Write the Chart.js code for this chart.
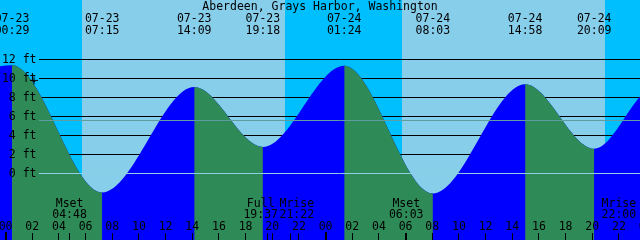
<!DOCTYPE html>
<html>
<head>
<meta charset="utf-8">
<script src="https://cdn.jsdelivr.net/npm/chart.js@4"></script>
<style>
  html, body { margin: 0; padding: 0; background: #87CEEB; overflow: hidden; }
  canvas { display: block; }
</style>
</head>
<body>
<canvas id="tide-chart" width="640" height="240"></canvas>
<script>
// station and window (times are "MM-DD HH:MM", local)
const station = "Aberdeen, Grays Harbor, Washington";
const windowStart = "07-22 23:35";
const windowEnd = "07-24 23:35";

// tide extremes (ft)
const tideStamps = ["07-23 00:29", "07-23 07:15", "07-23 14:09", "07-23 19:18",
                    "07-24 01:24", "07-24 08:03", "07-24 14:58", "07-24 20:09"];
const tideHeights = [11.4, -2.0, 9.1, 2.8, 11.35, -2.1, 9.4, 2.6];

// water level at the left and right edge of the window
const edgeHeights = [11.3, 8.1];

// sun and moon
const sunrise = ["07-23 05:44", "07-24 05:43"];
const sunset = ["07-23 20:58", "07-24 20:57"];
const moonLabels = ["Mset", "Full", "Mrise", "Mset", "Mrise"];
const moonStamps = ["07-23 04:48", "07-23 19:37", "07-23 21:22", "07-24 06:03", "07-24 22:00"];

// "now" mark
const nowStamp = "07-23 02:08";
const nowHeight = 9.8;

// axes
const heightTicks = [0, 2, 4, 6, 8, 10, 12];
const hourLabels = ["00", "02", "04", "06", "08", "10", "12", "14", "16", "18", "20", "22",
                    "00", "02", "04", "06", "08", "10", "12", "14", "16", "18", "20", "22", "00"];
const hourStamps = ["07-23 00:00", "07-23 02:00", "07-23 04:00", "07-23 06:00", "07-23 08:00",
                    "07-23 10:00", "07-23 12:00", "07-23 14:00", "07-23 16:00", "07-23 18:00",
                    "07-23 20:00", "07-23 22:00", "07-24 00:00", "07-24 02:00", "07-24 04:00",
                    "07-24 06:00", "07-24 08:00", "07-24 10:00", "07-24 12:00", "07-24 14:00",
                    "07-24 16:00", "07-24 18:00", "07-24 20:00", "07-24 22:00", "07-25 00:00"];
const meanLevel = 5.58;
const datumLevel = 0;

const NIGHT = '#00BFFF', DAY = '#87CEEB', RISE = '#0000FF', FALL = '#2E8B57';
const FONT = '11.5px "DejaVu Sans Mono", "Liberation Mono", monospace';

// hours counted from 07-23 00:00
function toHours(stamp) {
  const [md, hm] = stamp.split(" ");
  const day = Number(md.split("-")[1]) - 23;
  const [h, m] = hm.split(":").map(Number);
  return day * 24 + h + m / 60;
}

const curve = [{ x: toHours(windowStart), y: edgeHeights[0] }];
tideStamps.forEach((s, i) => curve.push({ x: toHours(s), y: tideHeights[i] }));
curve.push({ x: toHours(windowEnd), y: edgeHeights[1] });

const lineLeft = 39;

const backdrop = {
  id: 'backdrop',
  beforeDraw(chart) {
    const { ctx, chartArea: a, scales: { x } } = chart;
    ctx.save();
    ctx.fillStyle = NIGHT;
    ctx.fillRect(a.left, a.top, a.right - a.left, a.bottom - a.top);
    ctx.fillStyle = DAY;
    sunrise.forEach((s, i) => {
      const x0 = Math.round(x.getPixelForValue(toHours(s)));
      const x1 = Math.round(x.getPixelForValue(toHours(sunset[i])));
      ctx.fillRect(x0, a.top, x1 - x0, a.bottom - a.top);
    });
    ctx.restore();
  },
  beforeDatasetsDraw(chart) {
    const { ctx, chartArea: a, scales: { y } } = chart;
    ctx.save();
    ctx.strokeStyle = '#000';
    ctx.lineWidth = 1;
    heightTicks.forEach(v => {
      const py = Math.round(y.getPixelForValue(v) - 0.5) + 0.5;
      ctx.beginPath();
      ctx.moveTo(lineLeft, py);
      ctx.lineTo(a.right, py);
      ctx.stroke();
    });
    ctx.restore();
  },
  afterDatasetsDraw(chart) {
    const { ctx, chartArea: a, scales: { x, y } } = chart;
    ctx.save();
    // datum and mean lines over the water
    [[datumLevel, '#8FCFE6'], [meanLevel, '#5F9EA0']].forEach(([v, c]) => {
      const py = Math.round(y.getPixelForValue(v) - 0.5) + 0.5;
      ctx.strokeStyle = c;
      ctx.beginPath();
      ctx.moveTo(lineLeft, py);
      ctx.lineTo(a.right, py);
      ctx.stroke();
    });

    ctx.font = FONT;
    ctx.fillStyle = '#000';
    ctx.textBaseline = 'alphabetic';

    // title
    ctx.textAlign = 'center';
    ctx.fillText(station, 320, 10);

    // tide event labels
    tideStamps.forEach(s => {
      const px = x.getPixelForValue(toHours(s));
      const [md, hm] = s.split(" ");
      ctx.fillText(md, px, 21.5);
      ctx.fillText(hm, px, 33.5);
    });

    // height labels
    ctx.textAlign = 'right';
    heightTicks.forEach(v => {
      ctx.fillText(v + ' ft', 36.5, y.getPixelForValue(v) + 3.5);
    });

    // moon labels, pushed apart when they overlap
    ctx.textAlign = 'center';
    const centers = moonStamps.map(s => x.getPixelForValue(toHours(s)));
    const pos = centers.slice();
    const need = ctx.measureText('00:00').width + 1.5;
    for (let i = 1; i < pos.length; i++) {
      const gap = pos[i] - pos[i - 1];
      if (gap < need) {
        const push = (need - gap) / 2;
        pos[i - 1] -= push;
        pos[i] += push;
      }
    }
    moonStamps.forEach((s, i) => {
      ctx.fillText(moonLabels[i], pos[i], 206.5);
      ctx.fillText(s.split(" ")[1], pos[i], 218);
    });

    // hour labels and ticks
    hourStamps.forEach((s, i) => {
      const px = x.getPixelForValue(toHours(s));
      ctx.fillText(hourLabels[i], px, 230);
      const midnight = s.endsWith("00:00");
      const w = midnight ? 2 : 1;
      ctx.fillRect(Math.round(px - w / 2), midnight ? 232 : 233, w, a.bottom - (midnight ? 232 : 233));
    });
    centers.forEach(px => {
      ctx.fillRect(Math.round(px - 0.5), 233, 1, a.bottom - 233);
    });
    ctx.restore();
  }
};

new Chart(document.getElementById('tide-chart'), {
  type: 'line',
  data: {
    datasets: [{
      // now mark, on top
      data: [{ x: toHours(nowStamp), y: nowHeight }],
      order: 0,
      showLine: false,
      fill: false,
      pointStyle: 'cross',
      pointRadius: 4,
      pointHoverRadius: 4,
      borderColor: '#000',
      borderWidth: 1
    }, {
      // falling tide painted over the rising fill
      data: curve,
      order: 1,
      borderWidth: 0,
      pointRadius: 0,
      fill: 'start',
      backgroundColor: 'rgba(0,0,0,0)',
      cubicInterpolationMode: 'monotone',
      segment: {
        backgroundColor: c => c.p1.parsed.y < c.p0.parsed.y ? FALL : 'rgba(0,0,0,0)'
      }
    }, {
      // whole water body, rising colour
      data: curve,
      order: 2,
      borderWidth: 0,
      pointRadius: 0,
      fill: 'start',
      backgroundColor: RISE,
      cubicInterpolationMode: 'monotone'
    }]
  },
  options: {
    responsive: false,
    animation: false,
    events: [],
    layout: { padding: 0, autoPadding: false },
    scales: {
      x: { type: 'linear', min: toHours(windowStart), max: toHours(windowEnd), display: false },
      y: { min: -7, max: 18.263, display: false }
    },
    plugins: {
      legend: { display: false },
      tooltip: { enabled: false }
    }
  },
  plugins: [backdrop]
});
</script>
</body>
</html>
